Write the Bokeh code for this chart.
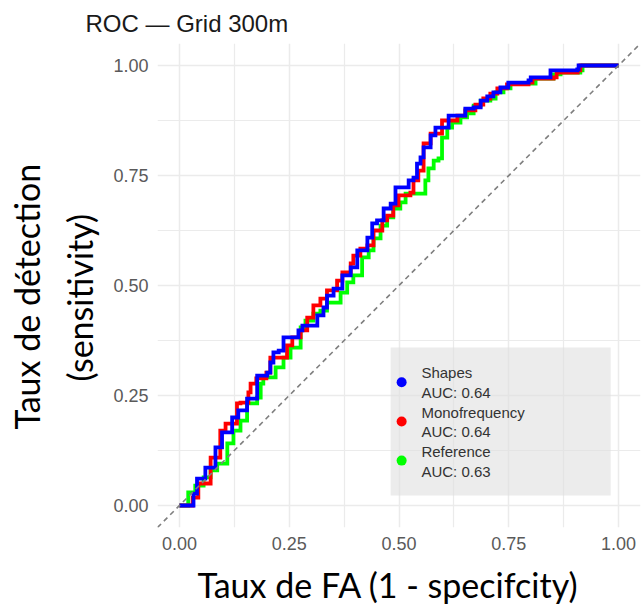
import math
from bokeh.plotting import figure
from bokeh.models import FixedTicker, Label, BoxAnnotation, Slope, Title
from bokeh.embed import file_html
from bokeh.resources import INLINE

# ---------------- data ----------------
title_text = "ROC \u2014 Grid 300m"
x_label = "Taux de FA (1 - specifcity)"
y_label_1 = "Taux de d\u00e9tection"
y_label_2 = "(sensitivity)"
tick_values = [0.0, 0.25, 0.5, 0.75, 1.0]
tick_labels = ["0.00", "0.25", "0.50", "0.75", "1.00"]
minor_ticks = [0.125, 0.375, 0.625, 0.875]

series_names = ["Shapes", "Monofrequency", "Reference"]
series_auc = ["AUC: 0.64", "AUC: 0.64", "AUC: 0.63"]
series_colors = ["#0000ff", "#ff0000", "#00ff00"]

shapes_fpr = [0.0, 0.020, 0.032, 0.040, 0.059, 0.082, 0.097, 0.120, 0.134, 0.154,
              0.177, 0.200, 0.207, 0.214, 0.226, 0.237, 0.253, 0.271, 0.280, 0.302,
              0.314, 0.328, 0.336, 0.351, 0.371, 0.390, 0.405, 0.428, 0.439, 0.450,
              0.465, 0.481, 0.492, 0.519, 0.522, 0.533, 0.541, 0.549, 0.556, 0.572,
              0.583, 0.601, 0.613, 0.633, 0.651, 0.670, 0.686, 0.701, 0.715, 0.731,
              0.749, 0.795, 0.800, 0.841, 0.845, 0.906, 0.909, 1.0]
shapes_tpr = [0.0, 0.0, 0.027, 0.061, 0.086, 0.132, 0.166, 0.200, 0.216, 0.243,
              0.295, 0.302, 0.325, 0.348, 0.352, 0.382, 0.382, 0.398, 0.409, 0.409,
              0.432, 0.450, 0.477, 0.493, 0.523, 0.541, 0.580, 0.609, 0.641, 0.648,
              0.675, 0.686, 0.723, 0.723, 0.739, 0.745, 0.777, 0.791, 0.814, 0.841,
              0.859, 0.859, 0.886, 0.886, 0.902, 0.905, 0.920, 0.930, 0.939, 0.950,
              0.961, 0.966, 0.973, 0.973, 0.989, 0.991, 1.0, 1.0]

mono_fpr = [0.0, 0.020, 0.030, 0.043, 0.052, 0.071, 0.093, 0.105, 0.131, 0.139,
            0.157, 0.162, 0.175, 0.198, 0.207, 0.226, 0.245, 0.257, 0.276, 0.291,
            0.305, 0.321, 0.336, 0.359, 0.371, 0.390, 0.396, 0.412, 0.428, 0.442,
            0.462, 0.473, 0.487, 0.499, 0.526, 0.533, 0.544, 0.556, 0.572, 0.590,
            0.598, 0.621, 0.633, 0.651, 0.674, 0.692, 0.708, 0.724, 0.746, 0.795,
            0.804, 0.852, 0.859, 0.907, 0.913, 1.0]
mono_tpr = [0.0, 0.0, 0.018, 0.050, 0.050, 0.109, 0.170, 0.186, 0.232, 0.234,
            0.257, 0.277, 0.289, 0.302, 0.336, 0.336, 0.364, 0.382, 0.398, 0.427,
            0.455, 0.470, 0.489, 0.511, 0.530, 0.550, 0.568, 0.584, 0.591, 0.625,
            0.648, 0.659, 0.682, 0.705, 0.711, 0.739, 0.761, 0.823, 0.845, 0.845,
            0.875, 0.875, 0.886, 0.898, 0.911, 0.925, 0.936, 0.948, 0.957, 0.961,
            0.970, 0.973, 0.984, 0.989, 1.0, 1.0]

ref_fpr = [0.0, 0.016, 0.020, 0.036, 0.055, 0.071, 0.086, 0.109, 0.123, 0.139,
           0.154, 0.177, 0.185, 0.191, 0.219, 0.230, 0.237, 0.253, 0.276, 0.287,
           0.305, 0.321, 0.336, 0.367, 0.382, 0.396, 0.416, 0.431, 0.442, 0.458,
           0.473, 0.487, 0.503, 0.515, 0.553, 0.560, 0.567, 0.579, 0.590, 0.598,
           0.610, 0.621, 0.640, 0.655, 0.670, 0.686, 0.708, 0.720, 0.738, 0.754,
           0.803, 0.811, 0.852, 0.868, 0.913, 0.918, 1.0]
ref_tpr = [0.0, 0.0, 0.030, 0.045, 0.064, 0.080, 0.095, 0.141, 0.170, 0.193,
           0.232, 0.245, 0.277, 0.291, 0.314, 0.314, 0.336, 0.359, 0.405, 0.420,
           0.436, 0.443, 0.461, 0.484, 0.507, 0.523, 0.564, 0.580, 0.607, 0.636,
           0.655, 0.675, 0.689, 0.709, 0.709, 0.739, 0.766, 0.784, 0.789, 0.836,
           0.859, 0.870, 0.882, 0.891, 0.909, 0.920, 0.925, 0.939, 0.948, 0.959,
           0.959, 0.970, 0.980, 0.984, 0.989, 1.0, 1.0]

# ---------------- layout constants ----------------
W, H = 641, 613
BL, BR, BT = 157, 1, 43
BB = H - BT - 484
GRID = "#ebebeb"
LABEL_FONT = "Lato"
LABEL_SIZE = "34px"

p = figure(width=W, height=H, output_backend="svg", toolbar_location=None,
           x_range=(-0.05, 1.05), y_range=(-0.05, 1.05), title=title_text,
           min_border_left=BL, min_border_right=BR, min_border_top=BT, min_border_bottom=BB)
p.outline_line_color = None
p.background_fill_color = "white"
p.border_fill_color = "white"

p.title.align = "left"
p.title.offset = -72
p.title.standoff = 13
p.title.text_font = "Liberation Sans"
p.title.text_font_size = "24px"
p.title.text_font_style = "normal"
p.title.text_color = "#1a1a1a"

for ax in (p.xaxis[0], p.yaxis[0]):
    ax.ticker = FixedTicker(ticks=tick_values, minor_ticks=minor_ticks)
    ax.major_label_overrides = {v: s for v, s in zip(tick_values, tick_labels)}
    ax.axis_line_color = None
    ax.major_tick_line_color = None
    ax.minor_tick_line_color = None
    ax.major_tick_out = 0
    ax.major_tick_in = 0
    ax.minor_tick_out = 0
    ax.major_label_text_font = "Liberation Sans"
    ax.major_label_text_font_size = "18px"
    ax.major_label_text_color = "#5a5a5a"
p.xaxis[0].major_label_standoff = 9
p.yaxis[0].major_label_standoff = 9

for g in (p.xgrid[0], p.ygrid[0]):
    g.grid_line_color = GRID
    g.grid_line_width = 1.5
    g.minor_grid_line_color = GRID
    g.minor_grid_line_width = 1.2

# y axis titles (two rotated lines on the left)
p.add_layout(Title(text=y_label_2, align="left", offset=146, standoff=21,
                   text_font=LABEL_FONT, text_font_size=LABEL_SIZE, text_font_style="normal",
                   text_color="black"), "left")
p.add_layout(Title(text=y_label_1, align="left", offset=98, standoff=0,
                   text_font=LABEL_FONT, text_font_size=LABEL_SIZE, text_font_style="normal",
                   text_color="black"), "left")

# x axis title
p.add_layout(Title(text=x_label, align="left", offset=40, standoff=18,
                   text_font=LABEL_FONT, text_font_size=LABEL_SIZE, text_font_style="normal",
                   text_color="black"), "below")

# diagonal reference line
p.add_layout(Slope(gradient=1, y_intercept=0, line_color="#7f7f7f",
                   line_width=1.6, line_dash="5 4"))

# legend box (drawn under the curves, above the grid)
p.add_layout(BoxAnnotation(left=0.481, right=0.982, bottom=0.023, top=0.359,
                           fill_color="#e0e0e0", fill_alpha=0.6, line_color=None,
                           level="underlay"))

# ROC curves
curves = [(ref_fpr, ref_tpr, series_colors[2]),
          (mono_fpr, mono_tpr, series_colors[1]),
          (shapes_fpr, shapes_tpr, series_colors[0])]
for fx, ty, col in curves:
    p.step(fx, ty, mode="after", line_color=col, line_width=3.8, line_join="miter")

# legend keys and text
dot_y = [0.280, 0.191, 0.102]
name_y = [0.302, 0.211, 0.123]
auc_y = [0.257, 0.168, 0.077]
p.scatter([0.506] * 3, dot_y, size=10, fill_color=series_colors, line_color=None)
for nm, auc, yn, ya in zip(series_names, series_auc, name_y, auc_y):
    for txt, yy in ((nm, yn), (auc, ya)):
        p.add_layout(Label(x=0.551, y=yy, text=txt, text_baseline="middle",
                           text_align="left", text_font="Liberation Sans",
                           text_font_size="15px", text_color="#333333"))

open("out.html", "w").write(file_html(p, INLINE))
